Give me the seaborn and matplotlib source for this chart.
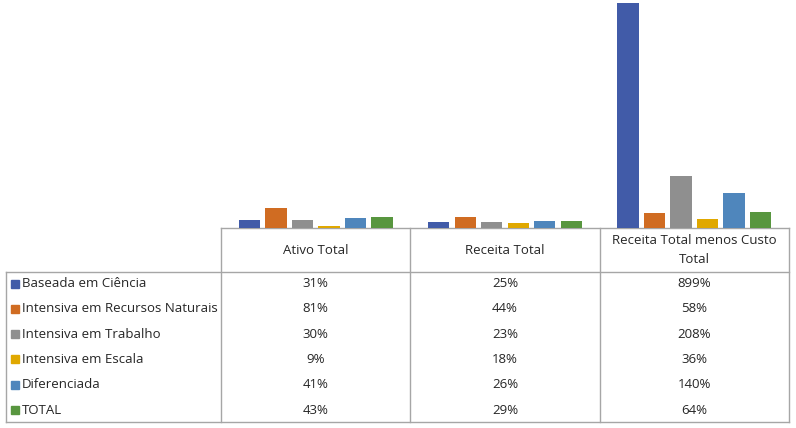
import matplotlib.pyplot as plt
import seaborn as sns
import pandas as pd

metrics = ["Ativo Total", "Receita Total", "Receita Total menos Custo Total"]
header_labels = ["Ativo Total", "Receita Total", "Receita Total menos Custo\nTotal"]
groups = ["Baseada em Ciência", "Intensiva em Recursos Naturais", "Intensiva em Trabalho",
          "Intensiva em Escala", "Diferenciada", "TOTAL"]
ativo = [31, 81, 30, 9, 41, 43]
receita = [25, 44, 23, 18, 26, 29]
lucro = [899, 58, 208, 36, 140, 64]
colors = ["#415ba8", "#d06c22", "#8f8f8f", "#e0a800", "#4f86bc", "#58963f"]

rows = []
for metric, vals in zip(metrics, [ativo, receita, lucro]):
    for g, v in zip(groups, vals):
        rows.append({"metric": metric, "group": g, "value": v})
df = pd.DataFrame(rows)

W, H = 796, 428
left, right, base, top = 221, 789, 228, 3
line_c = "#a6a6a6"
font = "Open Sans"
fs = 9.5

fig = plt.figure(figsize=(W / 100, H / 100), dpi=100)
ax = fig.add_axes([left / W, 1 - base / H, (right - left) / W, (base - top) / H])
sns.barplot(data=df, x="metric", y="value", hue="group", palette=colors,
            width=0.84, gap=0.19, legend=False, ax=ax, saturation=1)
ax.set_ylim(0, 899)
ax.set_xlim(-0.5, 2.5)
ax.axis("off")

# table overlay in pixel coordinates
tb = fig.add_axes([0, 0, 1, 1], zorder=-1)
tb.set_xlim(0, W)
tb.set_ylim(H, 0)
tb.axis("off")

col_w = (right - left) / 3
head_bot = 272
bottom = 422
tb.plot([left, right], [base, base], color=line_c, lw=1)
tb.plot([6, right], [head_bot, head_bot], color=line_c, lw=1)
tb.plot([6, right], [bottom, bottom], color=line_c, lw=1)
tb.plot([6, 6], [head_bot, bottom], color=line_c, lw=1)
for i in range(4):
    x = left + i * col_w
    tb.plot([x, x], [base, bottom], color=line_c, lw=1)

for i, lab in enumerate(header_labels):
    tb.text(left + (i + 0.5) * col_w, (base + head_bot) / 2, lab, ha="center",
            va="center", fontsize=fs, family=font, color="#262626", linespacing=1.55)

for r, (g, c) in enumerate(zip(groups, colors)):
    y = 283.5 + r * 25.3
    tb.add_patch(plt.Rectangle((11, y - 4), 8, 8, color=c))
    tb.text(22, y, g, ha="left", va="center", fontsize=fs, family=font, color="#262626")
    for i, vals in enumerate([ativo, receita, lucro]):
        tb.text(left + (i + 0.5) * col_w, y, f"{vals[r]}%", ha="center", va="center",
                fontsize=fs, family=font, color="#262626")

fig.savefig("out.png", dpi=100)
